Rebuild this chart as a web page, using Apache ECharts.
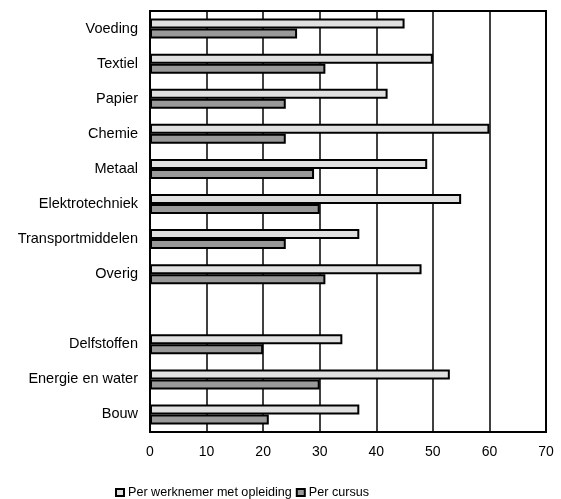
<!DOCTYPE html>
<html><head><meta charset="utf-8">
<script src="https://cdn.jsdelivr.net/npm/echarts@6/dist/echarts.min.js"></script>
<style>html,body{margin:0;padding:0;background:#fff}#c{width:561px;height:499px}</style>
</head><body><div id="c"></div>
<script>
const categories = ['Voeding','Textiel','Papier','Chemie','Metaal','Elektrotechniek','Transportmiddelen','Overig','','Delfstoffen','Energie en water','Bouw'];
const perWerknemer = [45,50,42,60,49,55,37,48,null,34,53,37];
const perCursus = [26,31,24,24,29,30,24,31,null,20,30,21];
const xTicks = [0,10,20,30,40,50,60,70];
const seriesNames = ['Per werknemer met opleiding','Per cursus'];

const chart = echarts.init(document.getElementById('c'));
const font = 'Arial, "Liberation Sans", sans-serif';
chart.setOption({
  animation:false,
  textStyle:{fontFamily:font},
  grid:{left:150,right:15,top:11,bottom:67,show:true,borderColor:'#000',borderWidth:2,backgroundColor:'transparent'},
  xAxis:{type:'value',min:xTicks[0],max:xTicks[xTicks.length-1],interval:10,
    axisLine:{show:true,lineStyle:{color:'#000',width:2}},
    axisTick:{show:false},
    axisLabel:{color:'#000',fontSize:14,margin:13,fontFamily:font},
    splitLine:{show:true,lineStyle:{color:'#000',width:1.5}}},
  yAxis:{type:'category',data:categories,inverse:true,
    axisLine:{show:true,lineStyle:{color:'#000',width:2}},
    axisTick:{show:false},
    axisLabel:{color:'#000',fontSize:14.5,margin:12,fontFamily:font},
    splitLine:{show:false}},
  legend:{top:481,left:110,icon:'rect',itemWidth:8,itemHeight:7,itemGap:4,
    textStyle:{color:'#000',fontSize:12.6,fontFamily:font,padding:[0,0,0,-1]},
    data:seriesNames},
  series:[
    {name:seriesNames[0],type:'bar',data:perWerknemer,barWidth:10,barGap:'0%',
     itemStyle:{color:'#e0e0e0',borderColor:'#000',borderWidth:2}},
    {name:seriesNames[1],type:'bar',data:perCursus,barWidth:10,barGap:'0%',
     itemStyle:{color:'#999999',borderColor:'#000',borderWidth:2}}
  ]
});
</script></body></html>
